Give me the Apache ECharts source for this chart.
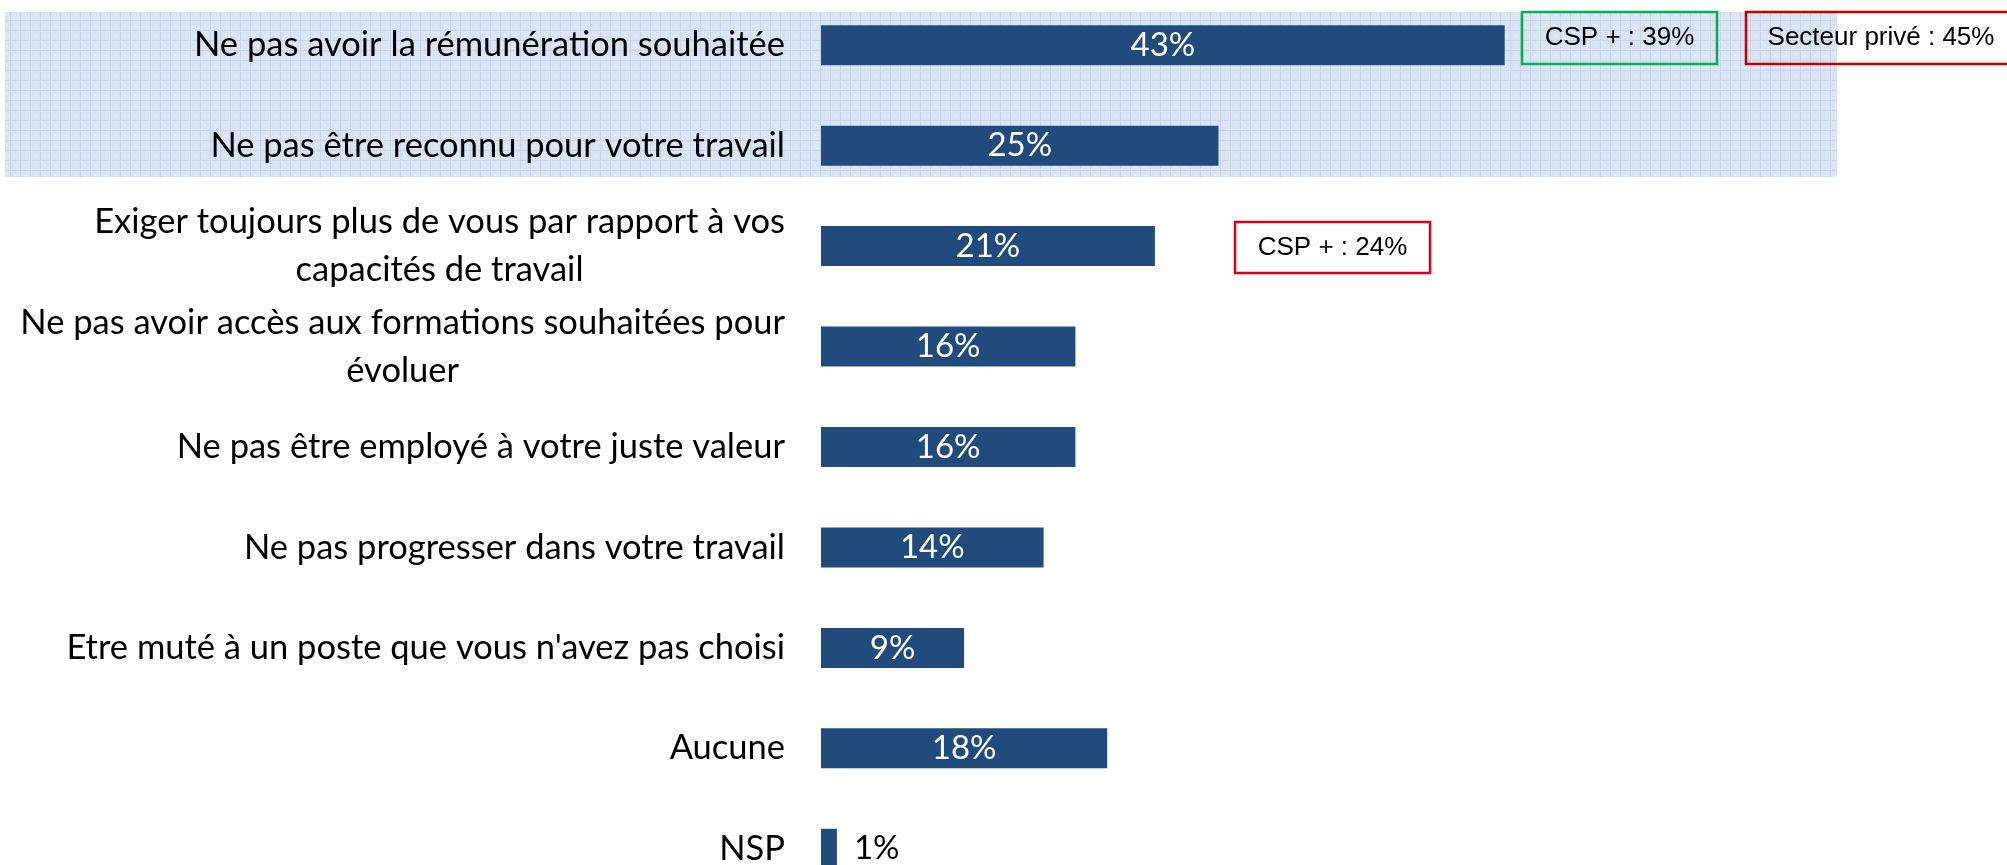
<!DOCTYPE html>
<html>
<head>
<meta charset="utf-8">
<script src="https://cdn.jsdelivr.net/npm/echarts@6/dist/echarts.min.js"></script>
<style>
  html, body { margin: 0; padding: 0; background: #fff; }
  #chart { width: 2007px; height: 865px; }
</style>
</head>
<body>
<div id="chart"></div>
<script>
// categories (top to bottom)
const categories = [
  'Ne pas avoir la rémunération souhaitée',
  'Ne pas être reconnu pour votre travail',
  'Exiger toujours plus de vous par rapport à vos\ncapacités de travail',
  'Ne pas avoir accès aux formations souhaitées pour\névoluer',
  'Ne pas être employé à votre juste valeur',
  'Ne pas progresser dans votre travail',
  "Etre muté à un poste que vous n'avez pas choisi",
  'Aucune',
  'NSP'
];
const values = [43, 25, 21, 16, 16, 14, 9, 18, 1];
// annotation boxes text
const noteTexts = ['CSP + : 39%', 'Secteur privé : 45%', 'CSP + : 24%'];

const chart = echarts.init(document.getElementById('chart'));

// graph paper fill for the highlighted rows
const pat = document.createElement('canvas');
pat.width = 10; pat.height = 10;
const pc = pat.getContext('2d');
pc.fillStyle = '#dbe5f2';
pc.fillRect(0, 0, 10, 10);
pc.fillStyle = '#c5d5ed';
pc.fillRect(0, 0, 10, 1);
pc.fillRect(0, 0, 1, 10);
pc.fillStyle = '#f2f6fb';
pc.fillRect(5, 5, 1, 1);

const labelFont = 'Lato';
const barData = values.map(v => v < 3
  ? { value: v, label: { position: 'right', color: '#000', distance: 17 } }
  : v);

function note(x, y, w, h, text, color) {
  return [
    { type: 'rect', z: 10, shape: { x: x, y: y, width: w, height: h },
      style: { fill: 'transparent', stroke: color, lineWidth: 2.5 } },
    { type: 'text', z: 11, x: x + w / 2, y: y + h / 2,
      style: { text: text, fill: '#000', font: '26px "Liberation Sans"', align: 'center', verticalAlign: 'middle' } }
  ];
}

const option = {
  animation: false,
  grid: { left: 821, top: -5, height: 904, width: 795, outerBoundsMode: 'none', containLabel: false },
  xAxis: {
    type: 'value', min: 0, max: 50,
    show: false, splitLine: { show: false }
  },
  yAxis: {
    type: 'category', data: categories, inverse: true,
    axisLine: { show: false }, axisTick: { show: false },
    axisLabel: {
      margin: 36,
      formatter: v => v.split('\n').map(l => '{c|' + l + '}').join('\n'),
      rich: {
        c: { align: 'center', fontSize: 34.5, lineHeight: 48, fontFamily: labelFont, color: '#000' }
      }
    }
  },
  series: [{
    type: 'bar',
    data: barData,
    barWidth: 40,
    itemStyle: { color: '#214a7d' },
    label: {
      show: true, position: 'inside',
      formatter: '{c}%', color: '#fff',
      fontSize: 33, fontFamily: labelFont
    }
  }],
  graphic: [
    { type: 'rect', z: -1, shape: { x: 5, y: 12, width: 1832, height: 165 },
      style: { fill: { image: pat, repeat: 'repeat' } } },
    ...note(1522, 12, 195, 52, noteTexts[0], '#00b050'),
    ...note(1746, 12, 270, 52, noteTexts[1], '#c00000'),
    ...note(1235, 222, 195, 51, noteTexts[2], '#d6001c')
  ]
};
chart.setOption(option);
</script>
</body>
</html>
